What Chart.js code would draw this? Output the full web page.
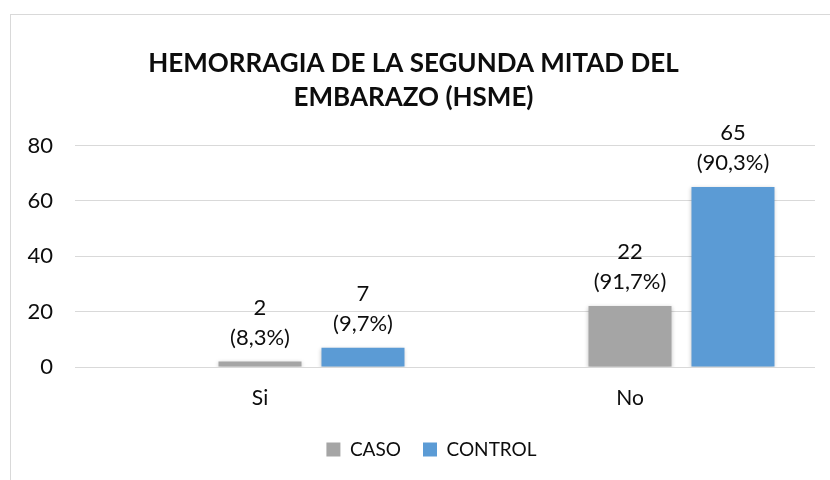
<!DOCTYPE html>
<html>
<head>
<meta charset="utf-8">
<script src="https://cdn.jsdelivr.net/npm/chart.js@4/dist/chart.umd.min.js"></script>
<style>
  html, body { margin: 0; padding: 0; background: #fff; }
  #wrap { width: 830px; height: 480px; position: relative; }
</style>
</head>
<body>
<div id="wrap"><canvas id="c" width="830" height="480"></canvas></div>
<script>
const titleLines = ['HEMORRAGIA DE LA SEGUNDA MITAD DEL', 'EMBARAZO (HSME)'];
const categories = ['Si', 'No'];
const seriesNames = ['CASO', 'CONTROL'];
const casoValues = [2, 22];
const controlValues = [7, 65];
const casoPct = ['(8,3%)', '(91,7%)'];
const controlPct = ['(9,7%)', '(90,3%)'];
const yTicks = [0, 20, 40, 60, 80];

const FONT = 'Lato, "Open Sans", sans-serif';
const TEXT = '#0d0d0d';

const borderPlugin = {
  id: 'frame',
  beforeDraw(chart) {
    const ctx = chart.ctx;
    ctx.save();
    ctx.fillStyle = '#fff';
    ctx.fillRect(0, 0, chart.width, chart.height);
    ctx.strokeStyle = '#d9d9d9';
    ctx.lineWidth = 1;
    ctx.strokeRect(10.5, 14.5, 1000, 1000);
    ctx.restore();
  }
};

const legendShift = {
  id: 'legendShift',
  afterLayout(chart) {
    if (chart.legend) {
      chart.legend.left += 18;
      chart.legend.right += 18;
    }
  }
};

const shadowPlugin = {
  id: 'barShadow',
  beforeDatasetsDraw(chart) {
    const ctx = chart.ctx;
    ctx.save();
    ctx.shadowColor = 'rgba(0,0,0,0.22)';
    ctx.shadowBlur = 4;
    ctx.shadowOffsetX = 0;
    ctx.shadowOffsetY = 1;
  },
  afterDatasetsDraw(chart) {
    chart.ctx.restore();
  }
};

const labelPlugin = {
  id: 'barLabels',
  afterDatasetsDraw(chart) {
    const ctx = chart.ctx;
    ctx.save();
    ctx.font = '22px ' + FONT;
    ctx.fillStyle = TEXT;
    ctx.textAlign = 'center';
    ctx.textBaseline = 'middle';
    chart.data.datasets.forEach((ds, di) => {
      if (!ds.pct) return;
      const meta = chart.getDatasetMeta(di);
      meta.data.forEach((bar, i) => {
        const v = ds.data[i];
        if (v == null) return;
        ctx.fillText(String(v), bar.x, bar.y - 54);
        ctx.fillText(ds.pct[i], bar.x, bar.y - 24);
      });
    });
    ctx.restore();
  }
};

new Chart(document.getElementById('c'), {
  type: 'bar',
  data: {
    labels: categories,
    datasets: [
      { label: '', data: categories.map(() => null), backgroundColor: 'rgba(0,0,0,0)' },
      { label: seriesNames[0], data: casoValues, pct: casoPct, backgroundColor: '#a5a5a5' },
      { label: seriesNames[1], data: controlValues, pct: controlPct, backgroundColor: '#5b9bd5' }
    ]
  },
  options: {
    responsive: false,
    animation: false,
    devicePixelRatio: 1,
    categoryPercentage: 0.835,
    barPercentage: 0.806,
    layout: { padding: { left: 12, right: 15, top: 0, bottom: 11 } },
    plugins: {
      tooltip: { enabled: false },
      title: {
        display: true,
        text: titleLines,
        color: TEXT,
        font: { family: FONT, size: 26, weight: 'bold', lineHeight: 1.3 },
        padding: { top: 47, bottom: 31 }
      },
      legend: {
        position: 'bottom',
        labels: {
          filter: (item) => item.text !== '',
          color: TEXT,
          font: { family: FONT, size: 19 },
          boxWidth: 14,
          boxHeight: 14,
          padding: 22
        }
      }
    },
    scales: {
      x: {
        grid: { display: false, drawTicks: false },
        border: { display: false },
        ticks: { color: TEXT, font: { family: FONT, size: 21 }, padding: 19 },
        afterFit(scale) { scale.height = 51; }
      },
      y: {
        min: 0,
        max: 80,
        afterBuildTicks(scale) { scale.ticks = yTicks.map(v => ({ value: v })); },
        grid: { color: '#d9d9d9', lineWidth: 1, drawTicks: false },
        border: { display: false },
        ticks: { color: TEXT, font: { family: FONT, size: 22 }, padding: 22 },
        afterFit(scale) { scale.width = 63; }
      }
    }
  },
  plugins: [borderPlugin, legendShift, shadowPlugin, labelPlugin]
});
</script>
</body>
</html>
